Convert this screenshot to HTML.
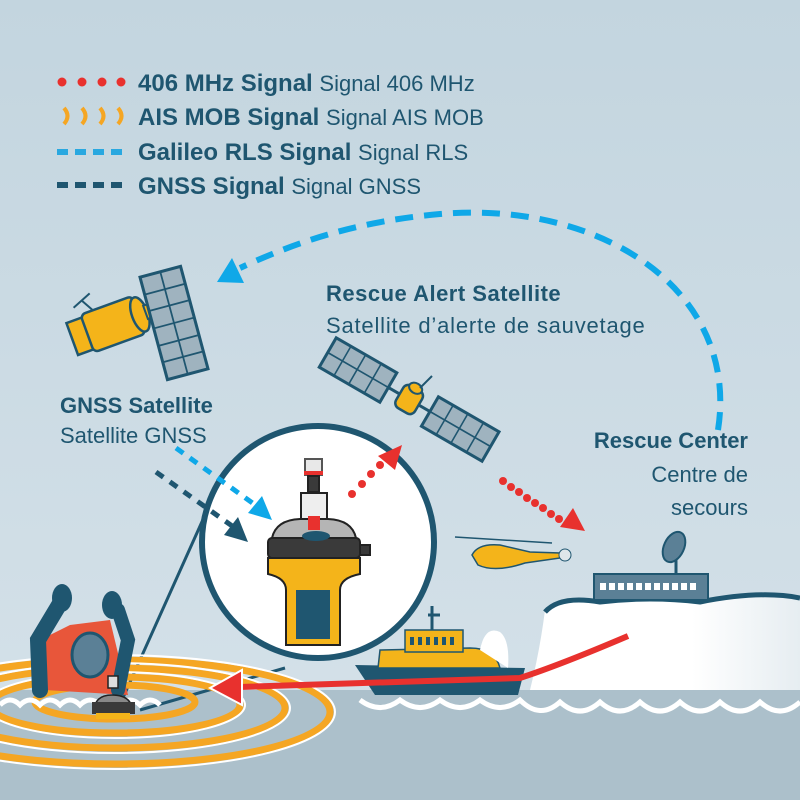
<!DOCTYPE html>
<html><head><meta charset="utf-8"><style>
html,body{margin:0;padding:0;}
svg{display:block;}
text{font-family:"Liberation Sans",sans-serif;fill:#1f5670;}
</style></head><body>
<svg width="800" height="800" viewBox="0 0 800 800" xmlns="http://www.w3.org/2000/svg">
<defs>
<linearGradient id="bg" x1="0" y1="0" x2="0" y2="1">
<stop offset="0" stop-color="#c3d5df"/><stop offset="0.85" stop-color="#d3e0e8"/></linearGradient>
<linearGradient id="cliff" x1="0" y1="0" x2="1" y2="0">
<stop offset="0" stop-color="#ffffff"/><stop offset="0.6" stop-color="#ffffff"/><stop offset="1" stop-color="#e6edf1"/></linearGradient>
</defs>
<rect width="800" height="800" fill="url(#bg)"/>
<rect y="690" width="800" height="110" fill="#acc0cb"/>
<!-- legend -->
<g fill="#e8312e"><circle cx="62" cy="82" r="4.5"/><circle cx="82" cy="82" r="4.5"/><circle cx="102" cy="82" r="4.5"/><circle cx="121" cy="82" r="4.5"/></g>
<g fill="none" stroke="#f5a623" stroke-width="4"><path d="M64,108 q7,8 0,16"/><path d="M82,108 q7,8 0,16"/><path d="M100,108 q7,8 0,16"/><path d="M118,108 q7,8 0,16"/></g>
<g fill="#29a8e0"><rect x="57" y="149" width="11" height="6"/><rect x="75" y="149" width="11" height="6"/><rect x="93" y="149" width="11" height="6"/><rect x="111" y="149" width="11" height="6"/></g>
<g fill="#1f5670"><rect x="57" y="182" width="11" height="6"/><rect x="75" y="182" width="11" height="6"/><rect x="93" y="182" width="11" height="6"/><rect x="111" y="182" width="11" height="6"/></g>
<text x="138" y="91" font-size="24" font-weight="bold">406 MHz Signal <tspan font-weight="normal" font-size="22">Signal 406 MHz</tspan></text>
<text x="138" y="125" font-size="24" font-weight="bold">AIS MOB Signal <tspan font-weight="normal" font-size="22">Signal AIS MOB</tspan></text>
<text x="138" y="160" font-size="24" font-weight="bold">Galileo RLS Signal <tspan font-weight="normal" font-size="22">Signal RLS</tspan></text>
<text x="138" y="194" font-size="24" font-weight="bold">GNSS Signal <tspan font-weight="normal" font-size="22">Signal GNSS</tspan></text>
<!-- big blue arc -->
<path d="M718,430 C740,290 600,200 440,214 C350,222 290,245 240,268" fill="none" stroke="#0fa8e8" stroke-width="6" stroke-dasharray="18,11"/>
<polygon points="217,282 232,258 244,283" fill="#0fa8e8"/>
<!-- GNSS satellite -->
<g transform="rotate(-20 110 320)">
<line x1="100" y1="310" x2="90" y2="292" stroke="#1f5670" stroke-width="2"/>
<line x1="80" y1="296" x2="100" y2="288" stroke="#1f5670" stroke-width="2"/>
<rect x="68" y="308" width="18" height="34" fill="#f4b41a" stroke="#1f5670" stroke-width="2.5"/>
<rect x="84" y="305" width="55" height="40" rx="5" fill="#f4b41a" stroke="#1f5670" stroke-width="2.5"/>
<ellipse cx="140" cy="325" rx="8" ry="18" fill="#f4b41a" stroke="#1f5670" stroke-width="2.5"/>
<rect x="146" y="318" width="10" height="14" fill="#f4b41a" stroke="#1f5670" stroke-width="2"/>
</g>
<g transform="rotate(-15 174 323)">
<rect x="153" y="270" width="42" height="106" fill="#9fb3bf" stroke="#1f5670" stroke-width="3"/>
<path d="M174,270V376M153,288H195M153,305H195M153,323H195M153,341H195M153,358H195" stroke="#1f5670" stroke-width="1.8"/>
</g>
<text x="60" y="413" font-size="22" font-weight="bold">GNSS Satellite</text>
<text x="60" y="443" font-size="22">Satellite GNSS</text>
<!-- Rescue alert satellite -->
<text x="326" y="301" font-size="22" font-weight="bold" letter-spacing="0.5">Rescue Alert Satellite</text>
<text x="326" y="333" font-size="22" letter-spacing="0.8">Satellite d’alerte de sauvetage</text>
<g transform="rotate(30 410 400)">
<line x1="330" y1="400" x2="495" y2="400" stroke="#1f5670" stroke-width="3"/>
<rect x="315" y="383" width="70" height="34" fill="#9fb3bf" stroke="#1f5670" stroke-width="3"/>
<path d="M332,383V417M349,383V417M367,383V417M315,400H385" stroke="#1f5670" stroke-width="1.6"/>
<rect x="433" y="383" width="70" height="34" fill="#9fb3bf" stroke="#1f5670" stroke-width="3"/>
<path d="M450,383V417M467,383V417M485,383V417M433,400H503" stroke="#1f5670" stroke-width="1.6"/>
<rect x="398" y="387" width="22" height="26" rx="6" fill="#f4b41a" stroke="#1f5670" stroke-width="2.5"/>
<ellipse cx="409" cy="387" rx="7" ry="5" fill="#f4b41a" stroke="#1f5670" stroke-width="2"/>
</g>
<line x1="420" y1="388" x2="432" y2="376" stroke="#1f5670" stroke-width="2"/>
<!-- Rescue center text -->
<text x="748" y="448" font-size="22" font-weight="bold" text-anchor="end">Rescue Center</text>
<text x="748" y="482" font-size="22" text-anchor="end">Centre de</text>
<text x="748" y="515" font-size="22" text-anchor="end">secours</text>
<!-- red dotted to rescue center -->
<g fill="#e8312e"><circle cx="503" cy="481" r="4"/><circle cx="511" cy="487" r="4"/><circle cx="519" cy="492" r="4"/><circle cx="527" cy="498" r="4"/><circle cx="535" cy="503" r="4"/><circle cx="543" cy="508" r="4"/><circle cx="551" cy="514" r="4"/><circle cx="559" cy="519" r="4"/></g>
<polygon points="585,531 560,527 573,508" fill="#e8312e"/>
<!-- lines from circle to small beacon -->
<line x1="205" y1="515" x2="122" y2="700" stroke="#1f5670" stroke-width="3"/>
<line x1="285" y1="668" x2="140" y2="710" stroke="#1f5670" stroke-width="3"/>
<!-- magnifier circle -->
<circle cx="318" cy="542" r="116" fill="#ffffff" stroke="#1f5670" stroke-width="6"/>
<!-- signals to circle -->
<path d="M176,448 L258,507" stroke="#0fa8e8" stroke-width="5" stroke-dasharray="9,8"/>
<polygon points="272,520 248,513 262,496" fill="#0fa8e8"/>
<path d="M156,472 L235,528" stroke="#1f5670" stroke-width="5" stroke-dasharray="9,8"/>
<polygon points="248,542 224,535 238,517" fill="#1f5670"/>
<!-- red dotted inside -->
<g fill="#e8312e"><circle cx="352" cy="494" r="4"/><circle cx="362" cy="484" r="4"/><circle cx="371" cy="474" r="4"/><circle cx="380" cy="465" r="4"/></g>
<polygon points="402,445 395,470 378,456" fill="#e8312e"/>
<!-- beacon -->
<g stroke="#222" stroke-width="2">
<rect x="305" y="459" width="17" height="16" fill="#e8e8e8" stroke="#555"/>
<rect x="304" y="471" width="19" height="4" fill="#e8312e" stroke="none"/>
<rect x="308" y="476" width="11" height="16" fill="#3a3a3a"/>
<rect x="301" y="493" width="26" height="28" fill="#eeeeee"/>
<path d="M272,538 Q276,520 300,519 H328 Q352,520 356,538 Z" fill="#b5b5b5"/>
<rect x="268" y="538" width="92" height="20" rx="4" fill="#3a3a3a"/>
<rect x="360" y="545" width="10" height="10" fill="#3a3a3a"/>
<path d="M268,558 H360 V574 Q340,578 340,590 V645 H286 V590 Q286,578 268,574 Z" fill="#f4b41a"/>
<rect x="296" y="590" width="34" height="49" fill="#1f5670" stroke="none"/>
</g>
<rect x="308" y="516" width="12" height="14" fill="#e8312e"/>
<ellipse cx="316" cy="536" rx="14" ry="5" fill="#1f5670"/>
<!-- cliff -->
<path d="M545,610 Q560,595 600,602 Q650,596 700,600 Q760,590 800,598 V690 H530 Q540,650 545,610 Z" fill="url(#cliff)"/>
<path d="M545,612 Q560,595 600,602 Q650,596 700,602 Q760,590 800,598" fill="none" stroke="#1f5670" stroke-width="5"/>
<rect x="594" y="574" width="114" height="26" fill="#5b8096" stroke="#1f5670" stroke-width="2"/>
<g fill="#fff"><rect x="600" y="583" width="6" height="7"/><rect x="609" y="583" width="6" height="7"/><rect x="618" y="583" width="6" height="7"/><rect x="627" y="583" width="6" height="7"/><rect x="636" y="583" width="6" height="7"/><rect x="645" y="583" width="6" height="7"/><rect x="654" y="583" width="6" height="7"/><rect x="663" y="583" width="6" height="7"/><rect x="672" y="583" width="6" height="7"/><rect x="681" y="583" width="6" height="7"/><rect x="690" y="583" width="6" height="7"/></g>
<ellipse cx="674" cy="547" rx="10" ry="16" fill="#5b8096" stroke="#1f5670" stroke-width="2" transform="rotate(25 674 547)"/>
<line x1="676" y1="560" x2="676" y2="574" stroke="#1f5670" stroke-width="3"/>
<!-- helicopter -->
<line x1="455" y1="537" x2="552" y2="543" stroke="#1f5670" stroke-width="1.5"/>
<path d="M472,555 Q478,543 500,545 L530,552 L560,553 L560,558 L525,563 Q495,573 478,565 Z" fill="#f4b41a" stroke="#1f5670" stroke-width="1.5"/>
<circle cx="565" cy="555" r="6" fill="#dfe6ea" stroke="#1f5670" stroke-width="1"/>
<!-- AIS rings -->
<g fill="none" stroke-width="7" stroke="#f5a623">
<ellipse cx="115" cy="712" rx="215" ry="52"/>
<ellipse cx="115" cy="708" rx="170" ry="40"/>
<ellipse cx="115" cy="705" rx="125" ry="28"/>
<ellipse cx="115" cy="702" rx="80" ry="17"/>
</g>
<g fill="none" stroke-width="2" stroke="#ffffff">
<ellipse cx="115" cy="712" rx="220" ry="57"/>
<ellipse cx="115" cy="708" rx="175" ry="45"/>
<ellipse cx="115" cy="705" rx="130" ry="33"/>
</g>
<!-- ship -->
<path d="M355,665 L525,668 L518,695 L375,695 Z" fill="#1f5670"/>
<path d="M380,650 L470,648 Q495,648 500,668 L378,668 Z" fill="#f4b41a" stroke="#1f5670" stroke-width="1.5"/>
<rect x="405" y="630" width="58" height="22" fill="#f4b41a" stroke="#1f5670" stroke-width="1.5"/>
<g fill="#1f5670"><rect x="410" y="637" width="4" height="8"/><rect x="418" y="637" width="4" height="8"/><rect x="426" y="637" width="4" height="8"/><rect x="434" y="637" width="4" height="8"/><rect x="442" y="637" width="4" height="8"/><rect x="450" y="637" width="4" height="8"/></g>
<path d="M432,630 V606 M428,615 H440" stroke="#1f5670" stroke-width="3"/>
<path d="M480,650 Q485,625 500,632 Q510,640 508,668 Z" fill="#fff"/>
<!-- waves -->
<path d="M0,705 Q10,695 20,705 Q30,695 40,705 Q50,695 60,705 Q70,695 80,705 Q90,695 100,705 Q110,695 120,705 Q130,695 140,705 Q150,695 160,705 M360,700 Q380,715 400,700 Q420,715 440,700 Q460,715 480,700 Q500,715 520,700 Q540,720 560,702 Q580,720 600,702 Q620,720 640,702 Q660,720 680,702 Q700,720 720,702 Q740,720 760,702 Q780,720 800,702" fill="none" stroke="#ffffff" stroke-width="5"/>
<!-- red route -->
<path d="M628,636 Q560,665 520,678 L240,687" fill="none" stroke="#e8312e" stroke-width="6"/>
<polygon points="210,688 242,670 242,705" fill="#e8312e" stroke="#fff" stroke-width="2"/>
<!-- person -->
<path d="M45,690 L40,640 L70,625 L110,620 L128,695 Z" fill="#e8563a"/>
<path d="M40,690 L38,640 L62,600" fill="none" stroke="#1f5670" stroke-width="16" stroke-linecap="round"/>
<path d="M118,690 L128,640 L118,610" fill="none" stroke="#1f5670" stroke-width="14" stroke-linecap="round"/>
<ellipse cx="62" cy="598" rx="10" ry="14" fill="#1f5670"/>
<ellipse cx="112" cy="605" rx="10" ry="14" fill="#1f5670"/>
<ellipse cx="90" cy="655" rx="18" ry="22" fill="#5b8096" stroke="#1f5670" stroke-width="3"/>
<!-- small beacon -->
<rect x="108" y="676" width="10" height="12" fill="#ddd" stroke="#222" stroke-width="1.5"/>
<path d="M94,712 Q94,695 112,695 Q132,695 133,712 Z" fill="#888" stroke="#222" stroke-width="1.5"/>
<rect x="92" y="702" width="43" height="12" fill="#3a3a3a"/>
<rect x="96" y="713" width="34" height="6" fill="#f4b41a"/>
</svg>
</body></html>
